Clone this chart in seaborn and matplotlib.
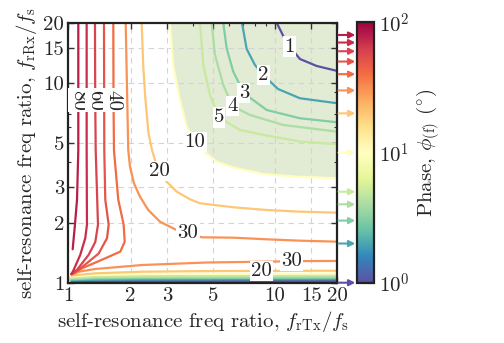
import numpy as np
import pandas as pd
import matplotlib
matplotlib.use("Agg")
import matplotlib.pyplot as plt
import seaborn as sns
from matplotlib.colors import LogNorm
from matplotlib.cm import ScalarMappable
from matplotlib.ticker import FixedLocator, FixedFormatter, NullFormatter

# ---------------- data ----------------
levels = [1, 2, 3, 4, 5, 10, 20, 30, 40, 50, 60, 70, 80]
tick_vals = [1, 2, 3, 5, 10, 15, 20]
tick_labels = ["1", "2", "3", "5", "10", "15", "20"]
cbar_ticks = [1, 10, 100]
cbar_labels = [r"$10^{0}$", r"$10^{1}$", r"$10^{2}$"]

# contour traces: x = f_rTx/f_s, y = f_rRx/f_s
c80_x = [1.118, 1.118, 1.118, 1.102, 1.077, 1.050]
c80_y = [20, 8.2, 4.6, 2.6, 1.95, 1.47]
c70_x = [1.227, 1.227, 1.227, 1.231, 1.208, 1.143, 1.062, 1.036]
c70_y = [20, 8.2, 4.6, 1.95, 1.67, 1.38, 1.16, 1.106]
c60_x = [1.346, 1.35, 1.357, 1.392, 1.351, 1.255, 1.102, 1.036]
c60_y = [20, 8.2, 4.6, 1.95, 1.60, 1.38, 1.16, 1.106]
c50_x = [1.488, 1.493, 1.51, 1.568, 1.539, 1.403, 1.123, 1.036]
c50_y = [20, 4.6, 2.6, 1.95, 1.67, 1.40, 1.16, 1.106]
c40_x = [1.651, 1.655, 1.663, 1.745, 1.853, 1.874, 1.784, 1.51, 1.165, 1.04]
c40_y = [20, 8.2, 4.6, 2.6, 1.95, 1.60, 1.43, 1.325, 1.18, 1.10]
c30_top_x = [1.895, 1.95, 1.988, 2.078, 2.222, 2.437, 2.776, 3.281, 3.793, 4.417, 6.28, 9.11, 13.19, 20]
c30_top_y = [20, 4.615, 3.807, 3.145, 2.695, 2.311, 2.02, 1.851, 1.773, 1.687, 1.68, 1.649, 1.623, 1.604]
c20_top_x = [2.264, 2.305, 2.362, 2.443, 2.54, 2.626, 2.746, 2.991, 3.344, 3.877, 4.335, 6.28, 9.11, 13.19, 20]
c20_top_y = [20, 12.05, 8.21, 5.594, 4.615, 4.113, 3.623, 3.203, 2.855, 2.615, 2.497, 2.385, 2.311, 2.267, 2.241]
c10_x = [3.103, 3.219, 3.468, 3.737, 4.1, 4.581, 5.219, 6.28, 8.769, 12.72, 20]
c10_y = [20, 12.05, 8.21, 6.036, 5.061, 4.51, 4.033, 3.772, 3.499, 3.393, 3.331]
c5_x = [4.335, 4.496, 4.844, 5.354, 6.766, 9.11, 13.19, 20]
c5_y = [20, 12.29, 8.70, 6.712, 5.811, 5.453, 5.09, 4.928]
c4_x = [4.937, 5.122, 5.617, 6.223, 7.56, 10.96, 20]
c4_y = [20, 13.79, 9.76, 7.661, 6.909, 6.156, 5.698]
c3_x = [5.617, 5.834, 6.28, 7.072, 9.11, 13.19, 20]
c3_y = [20, 14.9, 11.38, 8.87, 7.317, 6.65, 6.351]
c2_x = [6.918, 7.289, 7.993, 8.769, 10.33, 13.19, 20]
c2_y = [20, 14.78, 12.29, 10.95, 9.32, 8.375, 7.906]
c1_x = [10.18, 10.96, 11.8, 13.19, 15.89, 20]
c1_y = [20, 17.17, 15.18, 13.17, 12.15, 11.47]
# bottom branches (near f_rRx/f_s = 1)
c30_bot_x = [1.036, 1.139, 1.351, 2.272, 4.67, 12.03, 14.22, 20]
c30_bot_y = [1.099, 1.138, 1.171, 1.226, 1.262, 1.28, 1.283, 1.285]
c20_bot_x = [1.036, 1.351, 2.272, 4.67, 8.614, 20]
c20_bot_y = [1.086, 1.114, 1.135, 1.143, 1.146, 1.148]
bot_x = [1.036, 1.351, 2.272, 20]
c10_bot_y = [1.075, 1.095, 1.105, 1.112]
c5_bot_y = [1.06, 1.075, 1.083, 1.089]
c4_bot_y = [1.05, 1.062, 1.069, 1.074]
c3_bot_y = [1.04, 1.05, 1.055, 1.059]
c2_bot_y = [1.028, 1.035, 1.038, 1.041]
c1_bot_y = [1.014, 1.017, 1.019, 1.02]

# (level, x, y, label index, label rotation)
branches = [
    (80, c80_x, c80_y, 1, -90), (70, c70_x, c70_y, None, 0),
    (60, c60_x, c60_y, 1, -90), (50, c50_x, c50_y, None, 0),
    (40, c40_x, c40_y, 1, -90), (30, c30_top_x, c30_top_y, 8, 0),
    (20, c20_top_x, c20_top_y, 6, 0), (10, c10_x, c10_y, 4, 0),
    (5, c5_x, c5_y, 3, 0), (4, c4_x, c4_y, 3, 0), (3, c3_x, c3_y, 3, 0),
    (2, c2_x, c2_y, 3, 0), (1, c1_x, c1_y, 2, 0),
    (30, c30_bot_x, c30_bot_y, 5, 0), (20, c20_bot_x, c20_bot_y, 4, 0),
    (10, bot_x, c10_bot_y, None, 0), (5, bot_x, c5_bot_y, None, 0),
    (4, bot_x, c4_bot_y, None, 0), (3, bot_x, c3_bot_y, None, 0),
    (2, bot_x, c2_bot_y, None, 0), (1, bot_x, c1_bot_y, None, 0),
]

rows = []
for b, (lev, xs, ys, _, _) in enumerate(branches):
    for k, (xv, yv) in enumerate(zip(xs, ys)):
        rows.append({"level": lev, "branch": b, "order": k, "x": xv, "y": yv})
df = pd.DataFrame(rows)

# ---------------- styling ----------------
sns.set_style("ticks")
plt.rcParams["font.family"] = ["cmr10"]
plt.rcParams["mathtext.fontset"] = "cm"
plt.rcParams["axes.formatter.use_mathtext"] = True
plt.rcParams["axes.unicode_minus"] = False

cmap = plt.get_cmap("Spectral_r")
norm = LogNorm(vmin=1, vmax=100)
FS = 15

fig = plt.figure(figsize=(5.04, 3.43), dpi=100)
ax = fig.add_axes([0.1355, 0.1758, 0.5337, 0.758])
cax = fig.add_axes([0.7077, 0.1758, 0.0343, 0.759])

ax.set_xscale("log")
ax.set_yscale("log")
ax.set_xlim(1, 20)
ax.set_ylim(1, 20)

# shaded region (phase < 10 deg)
fill_x = list(c10_x) + [20]
fill_y = list(c10_y) + [20]
ax.fill(fill_x, fill_y, color="#e2ebd4", zorder=0, lw=0)

# grid
for v in tick_vals[1:-1]:
    ax.axvline(v, color="#d4d4d4", lw=0.8, ls=(0, (5, 4)), zorder=0.5)
    ax.axhline(v, color="#d4d4d4", lw=0.8, ls=(0, (5, 4)), zorder=0.5)

sns.lineplot(data=df, x="x", y="y", hue="level", units="branch",
             estimator=None, sort=False, palette="Spectral_r", hue_norm=norm,
             lw=1.6, legend=False, ax=ax, zorder=2)

for lev, xs, ys, li, rot in branches:
    if li is None:
        continue
    ax.text(xs[li], ys[li], str(lev), ha="center", va="center", fontsize=FS,
            rotation=rot, zorder=5,
            bbox=dict(boxstyle="square,pad=0.06", fc="white", ec="none"))

ax.xaxis.set_major_locator(FixedLocator(tick_vals))
ax.xaxis.set_major_formatter(FixedFormatter(tick_labels))
ax.yaxis.set_major_locator(FixedLocator(tick_vals))
ax.yaxis.set_major_formatter(FixedFormatter(tick_labels))
ax.xaxis.set_minor_locator(FixedLocator([4, 6, 7, 8, 9]))
ax.yaxis.set_minor_locator(FixedLocator([4, 6, 7, 8, 9]))
ax.xaxis.set_minor_formatter(NullFormatter())
ax.yaxis.set_minor_formatter(NullFormatter())
ax.tick_params(which="both", direction="in", top=True, right=True,
               labelsize=FS, color="#333333", pad=3)
ax.tick_params(which="major", length=4, width=1)
ax.tick_params(which="minor", length=2.5, width=0.8)
for s in ax.spines.values():
    s.set_linewidth(1.6)
    s.set_color("#222222")
ax.set_xlabel(r"self-resonance freq ratio, $f_{\mathrm{rTx}}/f_{\mathrm{s}}$", fontsize=FS, labelpad=3)
ax.set_ylabel(r"self-resonance freq ratio, $f_{\mathrm{rRx}}/f_{\mathrm{s}}$", fontsize=FS, labelpad=3)

# colorbar
sm = ScalarMappable(norm=norm, cmap=cmap)
cb = fig.colorbar(sm, cax=cax)
cb.outline.set_linewidth(1.6)
cb.outline.set_edgecolor("#222222")
cb.set_ticks(cbar_ticks)
cb.set_ticklabels(cbar_labels)
cax.tick_params(which="both", direction="in", labelsize=FS, color="#333333")
cax.tick_params(which="major", length=4)
cax.tick_params(which="minor", length=2.5)
cb.set_label(r"Phase, $\phi_{(\mathrm{f})}$ $(^{\circ})$", fontsize=FS, labelpad=4)

for lev in levels:
    pos = np.log10(lev) / 2.0
    cax.annotate("", xy=(-0.08, pos), xytext=(-1.05, pos),
                 xycoords="axes fraction", textcoords="axes fraction",
                 annotation_clip=False,
                 arrowprops=dict(arrowstyle="-|>", color=cmap(norm(lev)),
                                 lw=1.5, mutation_scale=9, shrinkA=0, shrinkB=0))

fig.savefig("out.png", dpi=100)
